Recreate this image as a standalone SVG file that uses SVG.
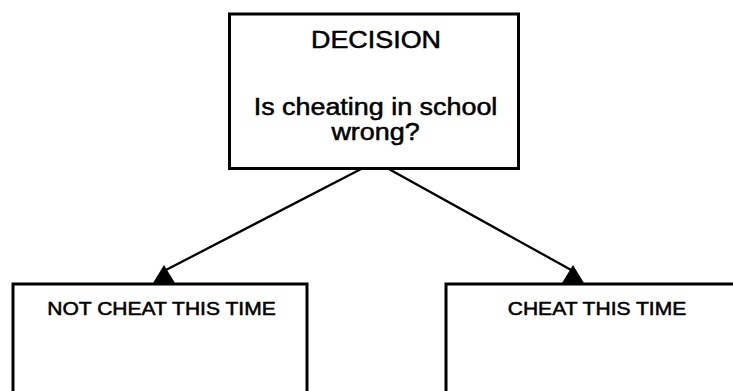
<svg xmlns="http://www.w3.org/2000/svg" width="733" height="391" viewBox="0 0 733 391">
  <style>
    .box { fill: #ffffff; stroke: #000000; stroke-width: 3; }
    .conn { stroke: #000000; stroke-width: 2.3; fill: none; marker-end: url(#tri); }
    .t { font-family: "Liberation Sans", Arial, sans-serif; fill: #000000; stroke: #000000; stroke-width: 0.5; text-anchor: middle; }
    .big { font-size: 23px; }
    .small { font-size: 18px; }
  </style>
  <defs>
    <!-- upright solid triangle, not rotated with the line -->
    <marker id="tri" markerUnits="userSpaceOnUse" orient="0" markerWidth="24" markerHeight="20" refX="11" refY="6" viewBox="0 0 24 20">
      <path d="M0,18 L11,0 L22,18 Z" fill="#000000"/>
    </marker>
  </defs>
  <rect width="733" height="391" fill="#ffffff"/>

  <g id="connectors">
    <line class="conn" x1="363" y1="168" x2="164" y2="271"/>
    <line class="conn" x1="387" y1="168" x2="573" y2="271"/>
  </g>

  <g id="decision">
    <rect class="box" x="229.5" y="14" width="289" height="154.5"/>
    <text class="t big" transform="translate(376 48) scale(1.17 1)">DECISION</text>
    <text class="t big" transform="translate(375.5 115) scale(1.17 1)">Is cheating in school</text>
    <text class="t big" transform="translate(375.5 140) scale(1.17 1)">wrong?</text>
  </g>

  <g id="not-cheat">
    <rect class="box" x="13" y="284" width="294" height="120"/>
    <text class="t small" transform="translate(161.5 315) scale(1.17 1)">NOT CHEAT THIS TIME</text>
  </g>

  <g id="cheat">
    <rect class="box" x="446" y="284" width="310" height="120"/>
    <text class="t small" transform="translate(597 315) scale(1.17 1)">CHEAT THIS TIME</text>
  </g>
</svg>
